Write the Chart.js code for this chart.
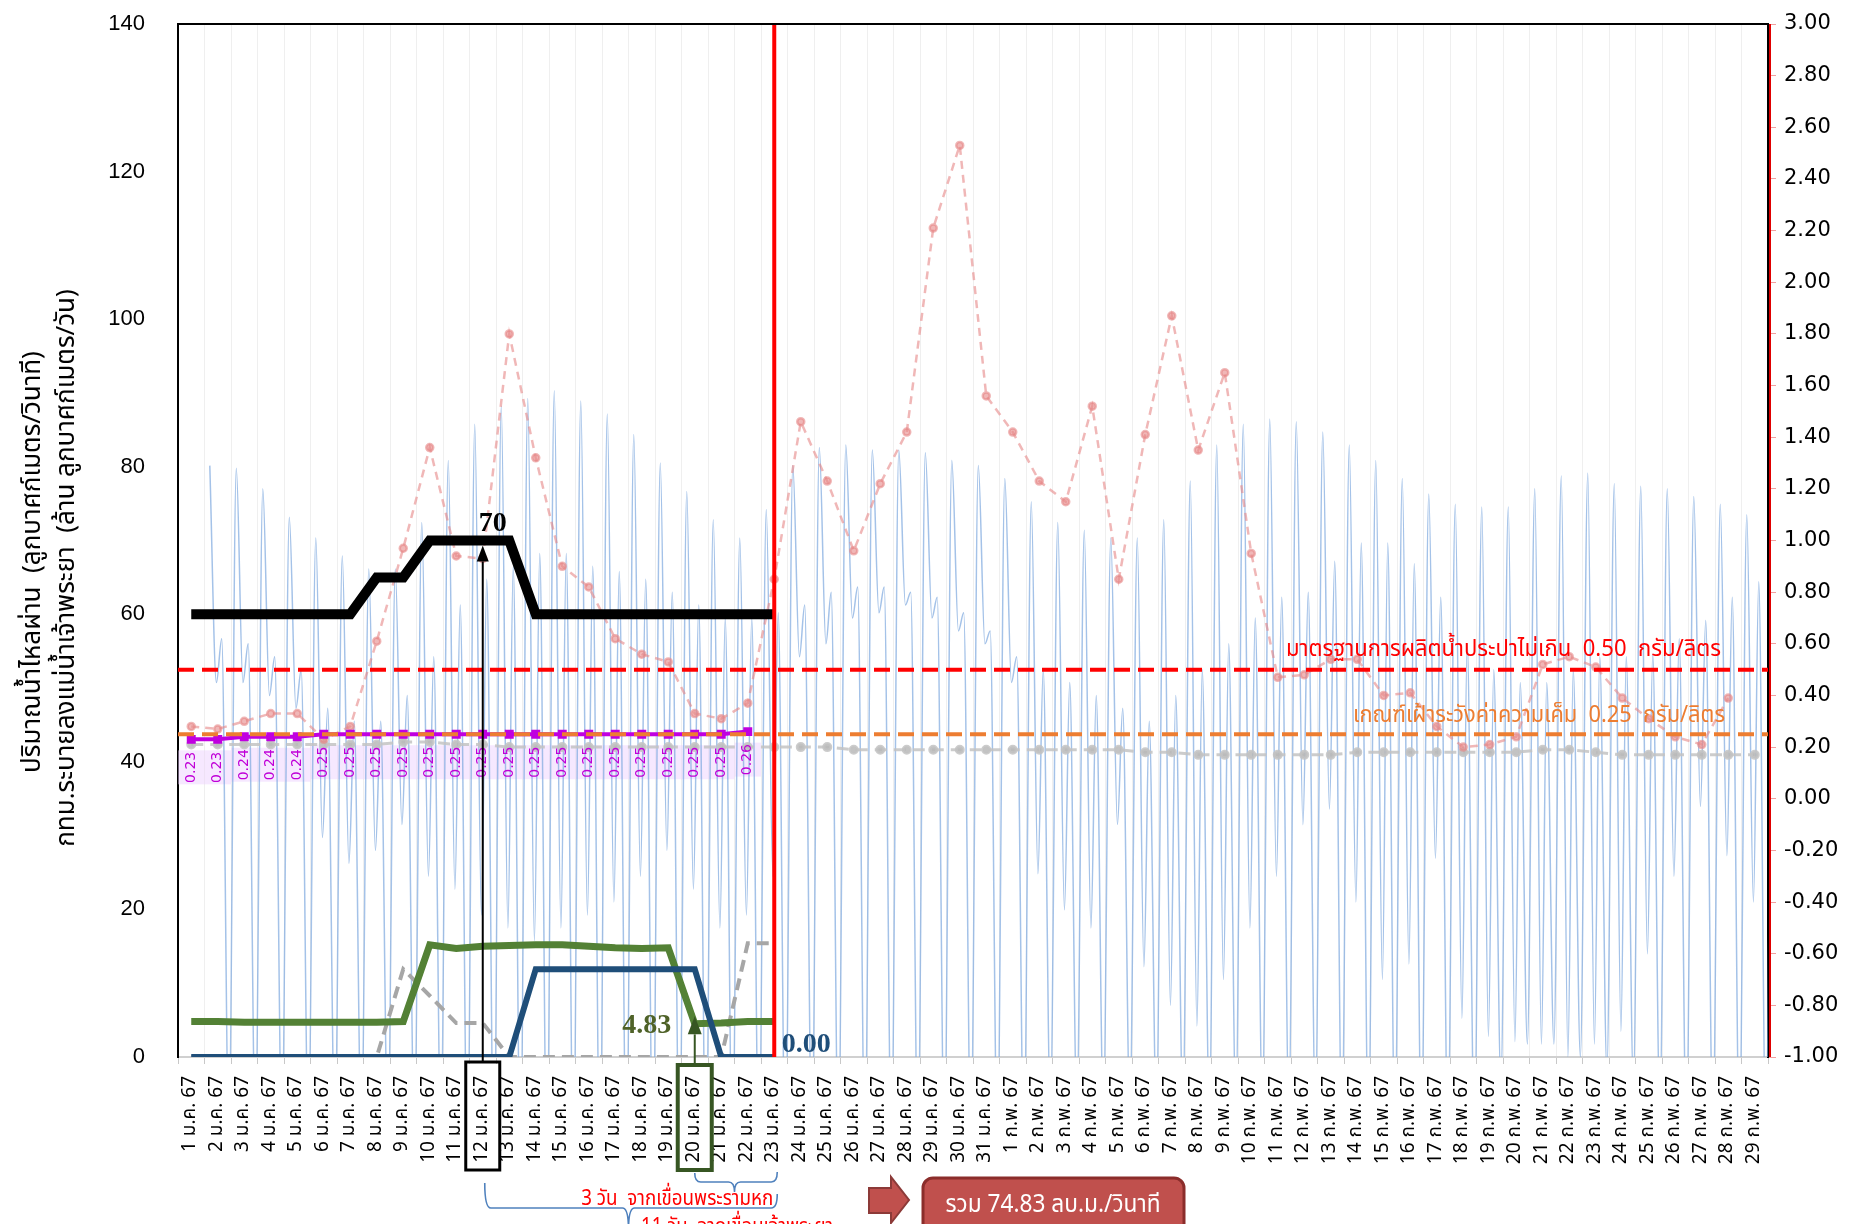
<!DOCTYPE html>
<html lang="th">
<head>
<meta charset="UTF-8">
<title>สถานการณ์ความเค็ม แม่น้ำเจ้าพระยา</title>
<script src="https://cdn.jsdelivr.net/npm/chart.js"></script>
<style>
  html, body { margin: 0; padding: 0; background: #fff; }
</style>
</head>
<body>
<canvas id="chart" width="1856" height="1224"></canvas>
<script>
// ---- data ----
var dayLabels = [
  '1 ม.ค. 67','2 ม.ค. 67','3 ม.ค. 67','4 ม.ค. 67','5 ม.ค. 67','6 ม.ค. 67','7 ม.ค. 67','8 ม.ค. 67','9 ม.ค. 67','10 ม.ค. 67',
  '11 ม.ค. 67','12 ม.ค. 67','13 ม.ค. 67','14 ม.ค. 67','15 ม.ค. 67','16 ม.ค. 67','17 ม.ค. 67','18 ม.ค. 67','19 ม.ค. 67','20 ม.ค. 67',
  '21 ม.ค. 67','22 ม.ค. 67','23 ม.ค. 67','24 ม.ค. 67','25 ม.ค. 67','26 ม.ค. 67','27 ม.ค. 67','28 ม.ค. 67','29 ม.ค. 67','30 ม.ค. 67',
  '31 ม.ค. 67','1 ก.พ. 67','2 ก.พ. 67','3 ก.พ. 67','4 ก.พ. 67','5 ก.พ. 67','6 ก.พ. 67','7 ก.พ. 67','8 ก.พ. 67','9 ก.พ. 67',
  '10 ก.พ. 67','11 ก.พ. 67','12 ก.พ. 67','13 ก.พ. 67','14 ก.พ. 67','15 ก.พ. 67','16 ก.พ. 67','17 ก.พ. 67','18 ก.พ. 67','19 ก.พ. 67',
  '20 ก.พ. 67','21 ก.พ. 67','22 ก.พ. 67','23 ก.พ. 67','24 ก.พ. 67','25 ก.พ. 67','26 ก.พ. 67','27 ก.พ. 67','28 ก.พ. 67','29 ก.พ. 67'
];

// left axis (ลบ.ม./วินาที)
var flowChaoPhrayaDam = [60,60,60,60,60,60,60,65,65,70,70,70,70,60,60,60,60,60,60,60,60,60,60];
var flowRama6Dam      = [4.8,4.8,4.7,4.7,4.7,4.7,4.7,4.7,4.8,15.2,14.7,15.0,15.1,15.2,15.2,15.0,14.8,14.7,14.8,4.5,4.6,4.8,4.8];
var flowOther         = [0,0,0,0,0,0,0,0,0,0,0,0,0,11.9,11.9,11.9,11.9,11.9,11.9,11.9,0,0,0];
var bmaDrain          = [0,0,0,0,0,0,0,0,11.9,8.3,4.6,4.6,0,0,0,0,0,0,0,0,0,15.4,15.4];

// right axis (กรัม/ลิตร)
var salinityForecast = [0.23,0.23,0.24,0.24,0.24,0.25,0.25,0.25,0.25,0.25,0.25,0.25,0.25,0.25,0.25,0.25,0.25,0.25,0.25,0.25,0.25,0.26];
var salinityStation = [
  0.28,0.27,0.30,0.33,0.33,0.23,0.28,0.61,0.97,1.36,
  0.94,0.93,1.80,1.32,0.90,0.82,0.62,0.56,0.53,0.33,
  0.31,0.37,0.85,1.46,1.23,0.96,1.22,1.42,2.21,2.53,
  1.56,1.42,1.23,1.15,1.52,0.85,1.41,1.87,1.35,1.65,
  0.95,0.47,0.48,0.54,0.54,0.40,0.41,0.28,0.20,0.21,
  0.24,0.52,0.55,0.51,0.39,0.31,0.24,0.21,0.39,null
];
var salinityUpstream = [
  0.21,0.21,0.21,0.21,0.21,0.21,0.21,0.21,0.22,0.22,
  0.21,0.21,0.20,0.20,0.20,0.20,0.20,0.20,0.20,0.20,
  0.20,0.20,0.20,0.20,0.20,0.19,0.19,0.19,0.19,0.19,
  0.19,0.19,0.19,0.19,0.19,0.19,0.18,0.18,0.17,0.17,
  0.17,0.17,0.17,0.17,0.18,0.18,0.18,0.18,0.18,0.18,
  0.18,0.19,0.19,0.18,0.17,0.17,0.17,0.17,0.17,0.17
];

// tide level (right axis, m): per day main high, low, second high, deep low
var tideMain = [
  1.29,1.28,1.20,1.09,1.01,0.94,0.89,0.89,1.07,1.31,
  1.45,1.52,1.55,1.58,1.54,1.49,1.41,1.30,1.19,1.08,
  1.01,1.12,1.29,1.36,1.37,1.35,1.35,1.34,1.31,1.29,
  1.24,1.15,1.07,1.04,1.01,1.01,1.08,1.23,1.37,1.45,
  1.47,1.46,1.42,1.37,1.31,1.24,1.18,1.14,1.13,1.13,
  1.20,1.25,1.26,1.22,1.21,1.20,1.17,1.14,1.10,1.03
];
var tideLow1 = [
  0.45,0.45,0.40,0.35,-0.15,-0.25,-0.20,-0.10,-0.30,-0.35,
  -0.45,-0.50,-0.55,-0.50,-0.45,-0.40,-0.30,-0.20,-0.35,-0.50,
  -0.45,-0.30,0.55,0.60,0.70,0.72,0.75,0.70,0.65,0.60,
  0.45,-0.29,-0.43,-0.50,-0.10,-0.65,-0.80,-0.88,-0.70,-0.50,
  -0.30,-0.10,-0.04,-0.40,-0.70,-0.64,-0.23,-0.85,-0.92,-0.94,
  -0.95,-1.00,-0.95,-0.90,-0.60,-0.30,-0.03,-0.22,-0.40,-0.59
];
var tideSecond = [
  0.62,0.60,0.55,0.50,0.35,0.30,0.30,0.40,0.55,0.75,
  0.85,0.90,0.95,0.95,0.90,0.88,0.85,0.80,0.75,0.70,
  0.70,0.72,0.75,0.80,0.82,0.82,0.80,0.78,0.72,0.65,
  0.55,0.50,0.45,0.40,0.35,0.30,0.40,0.50,0.60,0.70,
  0.78,0.80,0.92,0.99,0.99,0.91,0.78,0.60,0.50,0.45,
  0.45,0.50,0.55,0.55,0.56,0.62,0.69,0.78,0.84,0.87
];
var tideLow2 = [
  -1.30,-1.30,-1.30,-1.30,-1.30,-1.30,-1.30,-1.30,-1.30,-1.40,
  -1.40,-1.40,-1.40,-1.40,-1.40,-1.40,-1.40,-1.40,-1.40,-1.40,
  -1.40,-1.40,-1.35,-1.35,-1.35,-1.35,-1.35,-1.35,-1.35,-1.35,
  -1.35,-1.20,-1.20,-1.20,-1.20,-1.20,-1.20,-1.20,-1.20,-1.20,
  -1.20,-1.20,-1.30,-1.30,-1.30,-1.30,-1.30,-1.30,-1.10,-0.95,
  -0.95,-1.00,-1.05,-1.10,-1.20,-1.30,-1.30,-1.30,-1.30,-1.30
];
var tideTimeOfDay = [0.7, 0.95, 1.15, 1.42]; // day fraction of each turn

var supplyLimit = 0.50;   // มาตรฐานการผลิตน้ำประปา
var watchLimit = 0.25;    // เกณฑ์เฝ้าระวัง
var todayIndex = 22;      // 23 ม.ค. 67

var tidePoints = [];
dayLabels.forEach(function (lbl, k) {
  tidePoints.push({ x: k + tideTimeOfDay[0], y: tideMain[k] });
  tidePoints.push({ x: k + tideTimeOfDay[1], y: tideLow1[k] });
  tidePoints.push({ x: k + tideTimeOfDay[2], y: tideSecond[k] });
  tidePoints.push({ x: k + tideTimeOfDay[3], y: tideLow2[k] });
});

var THAI = 'Tahoma, "Noto Sans Thai", "Noto Sans", sans-serif';

function vText(ctx, text, cx, cy, font, color, maxW) {
  ctx.save();
  ctx.translate(cx, cy);
  ctx.rotate(-Math.PI / 2);
  ctx.font = font;
  ctx.fillStyle = color;
  ctx.textAlign = 'center';
  ctx.textBaseline = 'middle';
  ctx.fillText(text, 0, 0, maxW);
  ctx.restore();
}

function arrowUp(ctx, x, yFrom, yTip, color, lw, hw, hh) {
  ctx.save();
  ctx.strokeStyle = color;
  ctx.lineWidth = lw;
  ctx.beginPath();
  ctx.moveTo(x, yFrom);
  ctx.lineTo(x, yTip + hh);
  ctx.stroke();
  ctx.fillStyle = color;
  ctx.beginPath();
  ctx.moveTo(x, yTip);
  ctx.lineTo(x - hw / 2, yTip + hh);
  ctx.lineTo(x + hw / 2, yTip + hh);
  ctx.closePath();
  ctx.fill();
  ctx.restore();
}

function brace(ctx, xL, xR, yTop, yBot, xMid, yTip, yRightTop) {
  ctx.beginPath();
  ctx.moveTo(xL, yTop);
  ctx.quadraticCurveTo(xL, yBot, xL + 6, yBot);
  ctx.lineTo(xMid - 6, yBot);
  ctx.quadraticCurveTo(xMid, yBot, xMid, yTip);
  ctx.quadraticCurveTo(xMid, yBot, xMid + 6, yBot);
  ctx.lineTo(xR - 6, yBot);
  ctx.quadraticCurveTo(xR, yBot, xR, yRightTop);
  ctx.stroke();
}

var overlay = {
  id: 'overlay',
  beforeDatasetsDraw: function (chart) {
    var ctx = chart.ctx;
    var meta = chart.getDatasetMeta(4);
    var w = chart.scales.x.width / dayLabels.length;
    ctx.save();
    ctx.fillStyle = 'rgba(236,205,255,0.45)';
    meta.data.forEach(function (pt) {
      ctx.fillRect(pt.x - w / 2, pt.y + 11, w, 34);
    });
    ctx.restore();
  },
  afterDatasetsDraw: function (chart) {
    var ctx = chart.ctx, a = chart.chartArea, s = chart.scales;
    // labels of forecast salinity
    var meta = chart.getDatasetMeta(4);
    meta.data.forEach(function (pt, i) {
      vText(ctx, salinityForecast[i].toFixed(2), pt.x, pt.y + 28, '14px "DejaVu Sans", sans-serif', '#c000d8');
    });
    // threshold lines
    ctx.save();
    ctx.lineWidth = 4;
    ctx.setLineDash([16, 8]);
    ctx.strokeStyle = '#ff0000';
    var yS = s.y1.getPixelForValue(supplyLimit);
    ctx.beginPath(); ctx.moveTo(a.left, yS); ctx.lineTo(a.right, yS); ctx.stroke();
    ctx.strokeStyle = '#ed7d31';
    var yW = s.y1.getPixelForValue(watchLimit);
    ctx.beginPath(); ctx.moveTo(a.left, yW); ctx.lineTo(a.right, yW); ctx.stroke();
    ctx.setLineDash([]);
    ctx.font = '23px ' + THAI;
    ctx.textAlign = 'right';
    ctx.textBaseline = 'alphabetic';
    ctx.fillStyle = '#ff0000';
    ctx.fillText('มาตรฐานการผลิตน้ำประปาไม่เกิน  0.50  กรัม/ลิตร', 1721, yS - 14, 435);
    ctx.fillStyle = '#ed7d31';
    ctx.fillText('เกณฑ์เฝ้าระวังค่าความเค็ม  0.25  กรัม/ลิตร', 1725, yW - 12, 372);
    // today line
    var xT = s.x.getPixelForValue(todayIndex);
    ctx.strokeStyle = '#ff0000';
    ctx.lineWidth = 4;
    ctx.beginPath(); ctx.moveTo(xT, a.top); ctx.lineTo(xT, a.bottom); ctx.stroke();
    ctx.restore();
  },
  afterDraw: function (chart) {
    var ctx = chart.ctx, a = chart.chartArea, s = chart.scales;
    var x = function (i) { return s.x.getPixelForValue(i); };
    ctx.save();
    // frame
    ctx.strokeStyle = '#000';
    ctx.lineWidth = 2;
    ctx.beginPath(); ctx.moveTo(a.left, a.top); ctx.lineTo(a.right, a.top); ctx.stroke();
    ctx.strokeStyle = '#e00000';
    ctx.beginPath(); ctx.moveTo(a.right + 2, a.top); ctx.lineTo(a.right + 2, a.bottom); ctx.stroke();

    // axis title
    vText(ctx, 'ปริมาณน้ำไหลผ่าน  (ลูกบาศก์เมตร/วินาที)', 35, 562, '26px ' + THAI, '#000', 428);
    vText(ctx, 'กทม.ระบายลงแม่น้ำเจ้าพระยา  (ล้าน ลูกบาศก์เมตร/วัน)', 69, 568, '26px ' + THAI, '#000', 570);

    // 70 annotation
    var y70 = s.y.getPixelForValue(70);
    ctx.strokeStyle = '#000';
    ctx.lineWidth = 3;
    ctx.strokeRect(x(11) - 17, a.bottom + 5, 34, 108);
    arrowUp(ctx, x(11), a.bottom + 5, y70 + 5, '#000', 2, 12, 16);
    ctx.font = 'bold 28px "Liberation Serif", serif';
    ctx.textAlign = 'center';
    ctx.textBaseline = 'middle';
    ctx.fillStyle = '#000';
    ctx.fillText('70', x(11) + 10, y70 - 17);

    // 4.83 annotation
    var y483 = s.y.getPixelForValue(4.83);
    ctx.strokeStyle = '#375623';
    ctx.lineWidth = 4;
    ctx.strokeRect(x(19) - 17, a.bottom + 8, 34, 105);
    arrowUp(ctx, x(19), a.bottom + 8, y483 - 5, '#375623', 2, 14, 18);
    ctx.fillStyle = '#4f6228';
    ctx.fillText('4.83', x(19) - 48, y483 + 4);

    // 0.00
    ctx.fillStyle = '#1f4e79';
    ctx.fillText('0.00', x(todayIndex) + 32, s.y.getPixelForValue(0) - 12);

    // braces
    ctx.strokeStyle = '#4f81bd';
    ctx.lineWidth = 1.6;
    brace(ctx, x(19), x(todayIndex) + 3, 1173, 1182, (x(19) + x(todayIndex)) / 2, 1192, 1172);
    brace(ctx, x(11) + 2, x(todayIndex) + 3, 1183, 1208, (x(11) + x(todayIndex)) / 2, 1230, 1194);
    ctx.font = '22px ' + THAI;
    ctx.fillStyle = '#ff0000';
    ctx.textBaseline = 'alphabetic';
    ctx.textAlign = 'right';
    ctx.fillText('3 วัน  จากเขื่อนพระรามหก', x(todayIndex) - 1, 1205, 192);
    ctx.textAlign = 'left';
    ctx.fillText('11 วัน  จากเขื่อนเจ้าพระยา', 641, 1233, 192);

    // block arrow + total box
    ctx.fillStyle = '#c0504d';
    ctx.strokeStyle = '#8c3a38';
    ctx.lineWidth = 2;
    ctx.beginPath();
    ctx.moveTo(869, 1188); ctx.lineTo(891, 1188); ctx.lineTo(891, 1177);
    ctx.lineTo(909, 1200); ctx.lineTo(891, 1223); ctx.lineTo(891, 1213);
    ctx.lineTo(869, 1213); ctx.closePath();
    ctx.fill(); ctx.stroke();
    ctx.beginPath();
    ctx.roundRect(923, 1178, 261, 60, 10);
    ctx.fill();
    ctx.strokeStyle = '#8b2d2b';
    ctx.lineWidth = 3;
    ctx.stroke();
    ctx.fillStyle = '#ffffff';
    ctx.font = '25px ' + THAI;
    ctx.textAlign = 'center';
    ctx.fillText('รวม 74.83 ลบ.ม./วินาที', 1053, 1212, 215);
    ctx.restore();
  }
};

var ctx = document.getElementById('chart').getContext('2d');
new Chart(ctx, {
  type: 'line',
  data: {
    labels: dayLabels,
    datasets: [
      { label: 'เขื่อนเจ้าพระยา', data: flowChaoPhrayaDam, yAxisID: 'y', borderColor: '#000000', borderWidth: 10, pointRadius: 0 },
      { label: 'อื่น ๆ', data: flowOther, yAxisID: 'y', borderColor: '#1f4e79', borderWidth: 6, pointRadius: 0 },
      { label: 'เขื่อนพระรามหก', data: flowRama6Dam, yAxisID: 'y', borderColor: '#538135', borderWidth: 7, pointRadius: 0 },
      { label: 'กทม.ระบาย', data: bmaDrain, yAxisID: 'y', borderColor: '#a6a6a6', borderWidth: 4, borderDash: [12, 7], pointRadius: 0 },
      { label: 'คาดการณ์', data: salinityForecast, yAxisID: 'y1', borderColor: '#c000e0', backgroundColor: '#c000e0', borderWidth: 4, pointStyle: 'rect', pointRadius: 3.5 },
      { label: 'ความเค็ม', data: salinityStation, yAxisID: 'y1', borderColor: 'rgba(230,135,135,0.6)', backgroundColor: 'rgba(230,135,135,0.6)', borderWidth: 2.5, borderDash: [8, 6], pointRadius: 3.5 },
      { label: 'ความเค็มเหนือน้ำ', data: salinityUpstream, yAxisID: 'y1', borderColor: 'rgba(195,195,195,0.85)', backgroundColor: 'rgba(185,185,185,0.85)', borderWidth: 3, borderDash: [12, 7], pointRadius: 3.5 },
      { label: 'ระดับน้ำขึ้นลง', data: tidePoints, xAxisID: 'xt', yAxisID: 'y1', borderColor: 'rgba(125,168,222,0.7)', borderWidth: 1.5, pointRadius: 0, cubicInterpolationMode: 'monotone' }
    ]
  },
  options: {
    responsive: false,
    animation: false,
    layout: { padding: { top: 24, left: 0, right: 0, bottom: 0 } },
    plugins: { legend: { display: false }, tooltip: { enabled: false } },
    scales: {
      x: {
        type: 'category',
        offset: true,
        grid: { offset: true, color: '#efefef', lineWidth: 1, drawTicks: true, tickLength: 7, tickColor: '#c8c8c8' },
        border: { display: true, color: '#d0d0d0', width: 2 },
        ticks: { autoSkip: false, minRotation: 90, maxRotation: 90, padding: 12, color: '#000', font: { family: THAI, size: 19 } },
        afterFit: function (sc) { sc.height = 167; }
      },
      xt: { type: 'linear', display: false, min: -0.5, max: 59.5 },
      y: {
        position: 'left',
        min: 0, max: 140,
        ticks: { stepSize: 20, padding: 8, color: '#000', font: { family: '"Liberation Sans Narrow", "Liberation Sans", sans-serif', size: 22 } },
        grid: { drawOnChartArea: false, drawTicks: true, tickLength: 25, tickColor: 'rgba(0,0,0,0)' },
        border: { display: true, color: '#000', width: 2 },
        afterFit: function (sc) { sc.width = 178; }
      },
      y1: {
        position: 'right',
        min: -1, max: 3,
        ticks: { stepSize: 0.2, padding: 8, color: '#000', font: { family: '"DejaVu Sans", sans-serif', size: 21 },
          callback: function (v) { return v.toFixed(2); } },
        grid: { drawOnChartArea: false, drawTicks: true, tickLength: 8, color: '#f2a0a0' },
        border: { display: true, color: '#000', width: 2 },
        afterFit: function (sc) { sc.width = 88; }
      }
    }
  },
  plugins: [overlay]
});
</script>
</body>
</html>
